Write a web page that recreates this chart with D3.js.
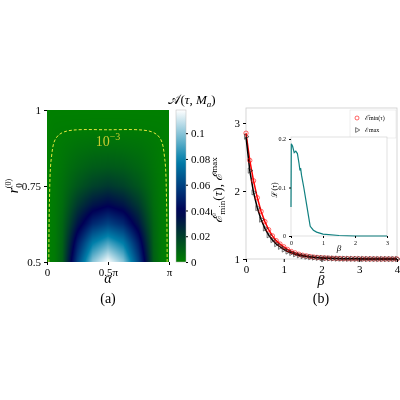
<!DOCTYPE html>
<html><head><meta charset="utf-8">
<script src="https://cdn.jsdelivr.net/npm/d3@7"></script>
<style>body{margin:0;background:#fff}text{font-family:"Liberation Serif",serif}</style>
</head><body>
<canvas id="hm" style="position:absolute;left:0;top:0"></canvas>
<svg id="chart" width="400" height="400" style="position:absolute;left:0;top:0"></svg>
<script>
// heatmap table: rows are r0 values, columns are alpha/pi values
const alphaGrid = [0, 0.0625, 0.125, 0.1875, 0.25, 0.375, 0.5, 0.625, 0.75, 0.8125, 0.875, 0.9375, 1];
const rGrid = [0.5, 0.5625, 0.625, 0.6875, 0.75, 0.8125, 0.875, 0.9375, 1];
const aValues = [
  [0, 0.002, 0.01, 0.035, 0.06, 0.1, 0.118, 0.1, 0.06, 0.035, 0.01, 0.002, 0],
  [0, 0.002, 0.009, 0.028, 0.048, 0.078, 0.09, 0.078, 0.048, 0.028, 0.009, 0.002, 0],
  [0, 0.002, 0.008, 0.02, 0.033, 0.052, 0.06, 0.052, 0.033, 0.02, 0.008, 0.002, 0],
  [0, 0.002, 0.006, 0.014, 0.022, 0.033, 0.038, 0.033, 0.022, 0.014, 0.006, 0.002, 0],
  [0, 0.0017, 0.005, 0.009, 0.013, 0.019, 0.022, 0.019, 0.013, 0.009, 0.005, 0.0017, 0],
  [0, 0.0015, 0.0035, 0.006, 0.008, 0.011, 0.012, 0.011, 0.008, 0.006, 0.0035, 0.0015, 0],
  [0, 0.0013, 0.0025, 0.0035, 0.0045, 0.0055, 0.006, 0.0055, 0.0045, 0.0035, 0.0025, 0.0013, 0],
  [0, 0.0009, 0.0011, 0.0012, 0.0013, 0.0014, 0.0014, 0.0014, 0.0013, 0.0012, 0.0011, 0.0009, 0],
  [0, 0, 0, 0, 0, 0, 0, 0, 0, 0, 0, 0, 0]
];
const aMax = 0.118;
// contour 1e-3 (alpha/pi, r0)
const contour = [[0.015,0.5],[0.02,0.7],[0.035,0.84],[0.07,0.905],[0.14,0.928],[0.5,0.935],[0.86,0.928],[0.93,0.905],[0.965,0.84],[0.98,0.7],[0.985,0.5]];
const cbTicks = [0, 0.02, 0.04, 0.06, 0.08, 0.1];

// panel b
const beta = d3.range(0, 4.01, 0.1).map(v => +v.toFixed(1));
const eMin = [2.85,2.45,2.15,1.9,1.7,1.55,1.43,1.34,1.27,1.22,1.18,1.14,1.11,1.09,1.07,1.055,1.045,1.035,1.028,1.022,1.018,1.015,1.012,1.01,1.008,1.006,1.005,1.004,1.003,1.003,1.002,1.002,1.001,1.001,1.001,1,1,1,1,1,1];
const eMax = [2.8,2.3,1.98,1.75,1.58,1.45,1.35,1.28,1.22,1.18,1.14,1.11,1.09,1.07,1.055,1.045,1.035,1.028,1.022,1.018,1.015,1.012,1.01,1.008,1.006,1.005,1.004,1.003,1.003,1.002,1.002,1.001,1.001,1.001,1,1,1,1,1,1,1];
const lBeta = [0,0.01,0.05,0.1,0.15,0.2,0.25,0.28,0.3,0.33,0.4,0.5,0.55,0.6,0.7,0.8,1,1.5,2,3];
const lVal = [0.06,0.19,0.185,0.172,0.175,0.17,0.15,0.135,0.14,0.125,0.1,0.06,0.04,0.02,0.012,0.008,0.004,0.001,0,0];

const svg = d3.select('#chart');
const ocean = t => {
  const c = v => Math.max(0, Math.min(1, v));
  return [c(3*t-2), c(Math.abs((3*t-1)/2)), c(t)].map(v => Math.round(v*255));
};

// ---- panel a
const xA = d3.scaleLinear().domain([0, 1]).range([47, 169]);
const yA = d3.scaleLinear().domain([0.5, 1]).range([262, 110]);
const cv = document.getElementById('hm');
cv.width = 400; cv.height = 400;
const ctx = cv.getContext('2d');
const img = ctx.createImageData(122, 152);
const nx = alphaGrid.length - 1, ny = rGrid.length - 1;
const fx = d3.scaleLinear().domain(alphaGrid).range(d3.range(nx + 1));
const fy = d3.scaleLinear().domain(rGrid).range(d3.range(ny + 1));
for (let j = 0; j < 152; j++) {
  const r = yA.invert(110 + j + 0.5);
  const gy = Math.min(ny - 1e-4, fy(r)), y0 = Math.floor(gy), ty = gy - y0;
  for (let i = 0; i < 122; i++) {
    const a = xA.invert(47 + i + 0.5);
    const gx = Math.min(nx - 1e-4, fx(a)), x0 = Math.floor(gx), tx = gx - x0;
    const v = (aValues[y0][x0]*(1-tx) + aValues[y0][x0+1]*tx)*(1-ty) +
              (aValues[y0+1][x0]*(1-tx) + aValues[y0+1][x0+1]*tx)*ty;
    const col = ocean(Math.min(1, v / aMax));
    const k = (j*122 + i)*4;
    img.data[k] = col[0]; img.data[k+1] = col[1]; img.data[k+2] = col[2]; img.data[k+3] = 255;
  }
}
ctx.putImageData(img, 47, 110);

svg.append('path')
  .attr('d', d3.line().curve(d3.curveCatmullRom).x(d => xA(d[0])).y(d => yA(d[1]))(contour))
  .attr('fill', 'none').attr('stroke', '#e8e840').attr('stroke-width', 1).attr('stroke-dasharray', '3,2');
svg.append('text').attr('x', 108).attr('y', 146).attr('text-anchor', 'middle')
  .attr('fill', '#c8cc30').attr('font-size', 14).html('10<tspan dy="-6" font-size="10">−3</tspan>');

const axA = svg.append('g');
axA.append('g').attr('transform', 'translate(0,262)')
  .call(d3.axisBottom(xA).tickValues([0, 0.5, 1]).tickFormat(d => d === 0 ? '0' : d === 1 ? 'π' : '0.5π').tickSize(3))
  .call(g => g.select('.domain').remove());
axA.append('g').attr('transform', 'translate(47,0)')
  .call(d3.axisLeft(yA).tickValues([0.5, 0.75, 1]).tickFormat(d3.format('')).tickSize(3))
  .call(g => g.select('.domain').remove());
axA.selectAll('text').attr('font-family', 'Liberation Serif').attr('font-size', 11);
svg.append('text').attr('x', 108).attr('y', 283).attr('text-anchor', 'middle').attr('font-size', 14).attr('font-style', 'italic').text('α');
svg.append('text').attr('x', 108).attr('y', 303).attr('text-anchor', 'middle').attr('font-size', 14).text('(a)');
svg.append('text').attr('transform', 'translate(18,186) rotate(-90)').attr('text-anchor', 'middle').attr('font-size', 14)
  .html('<tspan font-style="italic">r</tspan><tspan font-size="9" dy="4">0</tspan><tspan font-size="8" dx="-5" dy="-11">(0)</tspan>');

// colorbar
const yC = d3.scaleLinear().domain([0, aMax]).range([262, 110]);
const grad = svg.append('defs').append('linearGradient').attr('id', 'cb').attr('x1', 0).attr('y1', 1).attr('x2', 0).attr('y2', 0);
d3.range(0, 1.001, 0.05).forEach(t => grad.append('stop').attr('offset', t).attr('stop-color', `rgb(${ocean(t)})`));
svg.append('rect').attr('x', 176).attr('y', 110).attr('width', 10).attr('height', 152).attr('fill', 'url(#cb)').attr('stroke', '#bbb').attr('stroke-width', 0.5);
const cb = svg.append('g').attr('transform', 'translate(186,0)')
  .call(d3.axisRight(yC).tickValues(cbTicks).tickFormat(d => d === 0 ? '0' : d3.format('')(d)).tickSize(2));
cb.select('.domain').remove();
cb.selectAll('text').attr('font-family', 'Liberation Serif').attr('font-size', 11);
svg.append('text').attr('x', 192).attr('y', 104).attr('text-anchor', 'middle').attr('font-size', 13)
  .html('<tspan font-family="cursive">𝒜</tspan>(<tspan font-style="italic">τ</tspan>, <tspan font-style="italic">M</tspan><tspan font-size="9" dy="3" font-style="italic">a</tspan><tspan dy="-3">)</tspan>');

// ---- panel b
const xB = d3.scaleLinear().domain([0, 4]).range([246, 397]);
const yB = d3.scaleLinear().domain([1, 3]).range([259, 123]);
svg.append('rect').attr('x', 246).attr('y', 108).attr('width', 151).attr('height', 151).attr('fill', 'none').attr('stroke', '#ccc').attr('stroke-width', 0.8);
const lineB = vals => d3.line().x((d, i) => xB(beta[i])).y(d => yB(d))(vals);
svg.append('path').attr('d', lineB(eMin)).attr('fill', 'none').attr('stroke', 'red').attr('stroke-width', 1.5);
svg.append('path').attr('d', lineB(eMax)).attr('fill', 'none').attr('stroke', 'black').attr('stroke-width', 1.5);
svg.append('g').selectAll('circle').data(eMin).join('circle')
  .attr('cx', (d, i) => xB(beta[i])).attr('cy', d => yB(d)).attr('r', 2.2)
  .attr('fill', 'none').attr('stroke', 'red').attr('stroke-width', 0.6);
svg.append('g').selectAll('path').data(eMax).join('path')
  .attr('transform', (d, i) => `translate(${xB(beta[i])},${yB(d)}) rotate(90)`)
  .attr('d', d3.symbol(d3.symbolTriangle, 12)).attr('fill', 'none').attr('stroke', '#222').attr('stroke-width', 0.6);

const axB = svg.append('g');
axB.append('g').attr('transform', 'translate(0,259)').call(d3.axisBottom(xB).ticks(4).tickSize(3)).select('.domain').remove();
axB.append('g').attr('transform', 'translate(246,0)').call(d3.axisLeft(yB).ticks(2).tickSize(3)).select('.domain').remove();
axB.selectAll('text').attr('font-family', 'Liberation Serif').attr('font-size', 11);
svg.append('text').attr('x', 321).attr('y', 285).attr('text-anchor', 'middle').attr('font-size', 14).attr('font-style', 'italic').text('β');
svg.append('text').attr('x', 321).attr('y', 303).attr('text-anchor', 'middle').attr('font-size', 14).text('(b)');
svg.append('text').attr('transform', 'translate(222,190) rotate(-90)').attr('text-anchor', 'middle').attr('font-size', 13)
  .html('<tspan font-style="italic">ℰ̅</tspan><tspan font-size="9" dy="3">min</tspan><tspan dy="-3">(</tspan><tspan font-style="italic">τ</tspan>), <tspan font-style="italic">ℰ</tspan><tspan font-size="9" dy="-5">max</tspan>');

// legend
const lg = svg.append('g');
lg.append('rect').attr('x', 350).attr('y', 110).attr('width', 46).attr('height', 28).attr('fill', '#fff').attr('stroke', '#ddd').attr('stroke-width', 0.5);
lg.append('circle').attr('cx', 357).attr('cy', 118).attr('r', 2).attr('fill', 'none').attr('stroke', 'red').attr('stroke-width', 0.6);
lg.append('path').attr('transform', 'translate(357,130) rotate(90)').attr('d', d3.symbol(d3.symbolTriangle, 10)).attr('fill', 'none').attr('stroke', '#222').attr('stroke-width', 0.6);
lg.append('text').attr('x', 365).attr('y', 120).attr('font-size', 6).text('ℰ̅min(τ)');
lg.append('text').attr('x', 365).attr('y', 132).attr('font-size', 6).text('ℰmax');

// inset
const xI = d3.scaleLinear().domain([0, 3]).range([291, 387]);
const yI = d3.scaleLinear().domain([0, 0.2]).range([236, 139]);
svg.append('rect').attr('x', 291).attr('y', 137).attr('width', 96).attr('height', 99).attr('fill', '#fff').attr('stroke', '#ccc').attr('stroke-width', 0.6);
svg.append('path').attr('d', d3.line().x((d, i) => xI(lBeta[i])).y(d => yI(d))(lVal))
  .attr('fill', 'none').attr('stroke', '#108080').attr('stroke-width', 1.2);
const axI = svg.append('g');
axI.append('g').attr('transform', 'translate(0,236)').call(d3.axisBottom(xI).ticks(3).tickSize(2)).select('.domain').remove();
axI.append('g').attr('transform', 'translate(291,0)').call(d3.axisLeft(yI).tickValues([0, 0.1, 0.2]).tickFormat(d3.format('')).tickSize(2)).select('.domain').remove();
axI.selectAll('text').attr('font-family', 'Liberation Serif').attr('font-size', 6);
svg.append('text').attr('x', 339).attr('y', 251).attr('text-anchor', 'middle').attr('font-size', 9).attr('font-style', 'italic').text('β');
svg.append('text').attr('transform', 'translate(277,190) rotate(-90)').attr('text-anchor', 'middle').attr('font-size', 8)
  .html('<tspan font-family="cursive">ℒ</tspan>(<tspan font-style="italic">τ</tspan>)');
</script>
</body></html>
